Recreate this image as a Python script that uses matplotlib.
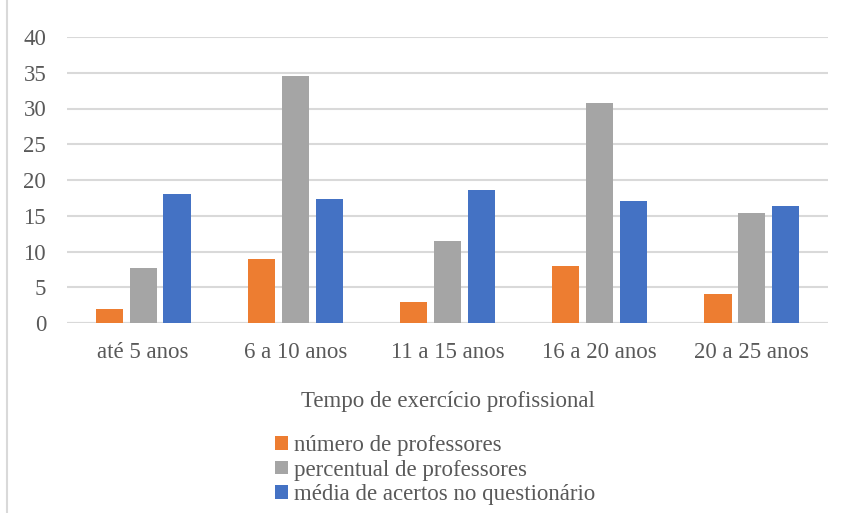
import numpy as np
import matplotlib.pyplot as plt
from matplotlib.lines import Line2D

# tempo de exercicio profissional
categorias = ['até 5 anos', '6 a 10 anos', '11 a 15 anos', '16 a 20 anos', '20 a 25 anos']
numero = [2, 9, 3, 8, 4]
percentual = [7.7, 34.6, 11.5, 30.8, 15.4]
media = [18.0, 17.3, 18.6, 17.0, 16.4]

series = [
    (numero, 'número de professores', '#ED7D31'),
    (percentual, 'percentual de professores', '#A5A5A5'),
    (media, 'média de acertos no questionário', '#4472C4'),
]

plt.rcParams['font.family'] = ['Liberation Serif', 'DejaVu Serif']
fs = 16.5

fig = plt.figure(figsize=(8.45, 5.13), dpi=100)
ax = fig.add_axes([67/845, 1-323/513, 761/845, 286/513])

x = np.arange(len(categorias))
w = 0.178
step = 0.223
for i, (vals, nome, cor) in enumerate(series):
    ax.bar(x + (i-1)*step, vals, w, color=cor, label=nome, zorder=3)

ax.set_xlim(-0.5, len(categorias)-0.5)
ax.set_ylim(0, 40)
ax.set_yticks(range(0, 41, 5))
ax.yaxis.grid(True, color='#D9D9D9', lw=1.5, zorder=0)
for s in ax.spines.values():
    s.set_visible(False)
ax.axhline(0, color='#D9D9D9', lw=1.5, zorder=2)
ax.tick_params(length=0, labelsize=fs, colors='#595959')
ax.tick_params(axis='y', pad=15)
ax.tick_params(axis='x', pad=14)
ax.set_xticks(x)
ax.set_xticklabels(categorias)
ax.set_xlabel('Tempo de exercício profissional', fontsize=fs, color='#595959', labelpad=20)

leg = fig.legend(loc='upper left', bbox_to_anchor=(266/845, 1-426/513), frameon=False,
                 fontsize=fs, handlelength=0.55, handleheight=0.55, handletextpad=0.25,
                 labelspacing=0.15, borderaxespad=0)
for t in leg.get_texts():
    t.set_color('#595959')

# borda esquerda da area do grafico
fig.add_artist(Line2D([7/845, 7/845], [0, 1], transform=fig.transFigure,
                      color='#D9D9D9', lw=1.5))

fig.savefig('out.png', dpi=100)
